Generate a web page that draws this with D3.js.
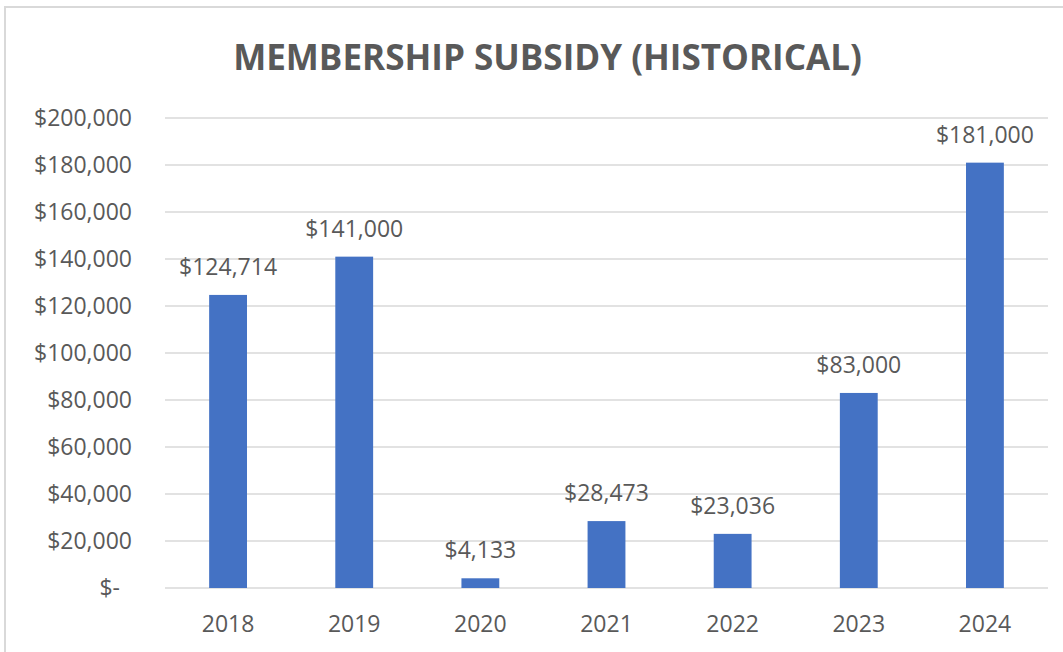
<!DOCTYPE html>
<html>
<head>
<meta charset="utf-8">
<script src="https://cdn.jsdelivr.net/npm/d3@7"></script>
<style>
  html, body { margin: 0; padding: 0; background: #ffffff; }
  svg { display: block; }
</style>
</head>
<body>
<svg id="chart" width="1063" height="652"></svg>
<script>
const title = "MEMBERSHIP SUBSIDY (HISTORICAL)";
const years = ["2018", "2019", "2020", "2021", "2022", "2023", "2024"];
const subsidy = [124714, 141000, 4133, 28473, 23036, 83000, 181000];
const yTicks = [0, 20000, 40000, 60000, 80000, 100000, 120000, 140000, 160000, 180000, 200000];

const W = 1063, H = 652;
const font = "'Open Sans', 'Noto Sans', sans-serif";
const textColor = "#595959";
const gridColor = "#d9d9d9";
const barColor = "#4472C4";

const svg = d3.select("#chart");

// chart area border (extends beyond visible window on right/bottom)
svg.append("rect")
  .attr("x", 5).attr("y", 7)
  .attr("width", W + 20).attr("height", H + 20)
  .attr("fill", "#ffffff")
  .attr("stroke", gridColor)
  .attr("stroke-width", 2);

const plot = { left: 165, right: 1048, top: 118, bottom: 588 };

const x = d3.scaleBand()
  .domain(years)
  .range([plot.left, plot.right])
  .paddingInner(0.7)
  .paddingOuter(0.35);

const y = d3.scaleLinear()
  .domain([0, 200000])
  .range([plot.bottom, plot.top]);

// title
const t = svg.append("text")
  .attr("x", 547.5).attr("y", 70)
  .attr("text-anchor", "middle")
  .attr("font-family", font)
  .attr("font-weight", "bold")
  .attr("font-size", 34)
  .attr("fill", textColor)
  .text(title);
const tl = t.node().getComputedTextLength();
t.attr("font-size", 34 * 629 / tl);

// gridlines
svg.append("g")
  .selectAll("line")
  .data(yTicks)
  .join("line")
  .attr("x1", plot.left).attr("x2", plot.right)
  .attr("y1", d => y(d)).attr("y2", d => y(d))
  .attr("stroke", gridColor)
  .attr("stroke-width", 1.5);

// y-axis labels
const fmt = d3.format(",");
svg.append("g")
  .selectAll("text")
  .data(yTicks)
  .join("text")
  .attr("x", d => d === 0 ? 120 : 132)
  .attr("y", d => y(d))
  .attr("dy", "0.36em")
  .attr("text-anchor", "end")
  .attr("font-family", font)
  .attr("font-size", 23)
  .attr("fill", textColor)
  .text(d => d === 0 ? "$-" : "$" + fmt(d));

// bars
svg.append("g")
  .selectAll("rect")
  .data(years)
  .join("rect")
  .attr("x", d => x(d))
  .attr("width", x.bandwidth())
  .attr("y", (d, i) => y(subsidy[i]))
  .attr("height", (d, i) => y(0) - y(subsidy[i]))
  .attr("fill", barColor);

// data labels
svg.append("g")
  .selectAll("text")
  .data(years)
  .join("text")
  .attr("x", d => x(d) + x.bandwidth() / 2)
  .attr("y", (d, i) => y(subsidy[i]) - 20)
  .attr("text-anchor", "middle")
  .attr("font-family", font)
  .attr("font-size", 23)
  .attr("fill", textColor)
  .text((d, i) => "$" + fmt(subsidy[i]));

// x-axis labels
svg.append("g")
  .selectAll("text")
  .data(years)
  .join("text")
  .attr("x", d => x(d) + x.bandwidth() / 2)
  .attr("y", 632)
  .attr("text-anchor", "middle")
  .attr("font-family", font)
  .attr("font-size", 23)
  .attr("fill", textColor)
  .text(d => d);
</script>
</body>
</html>
